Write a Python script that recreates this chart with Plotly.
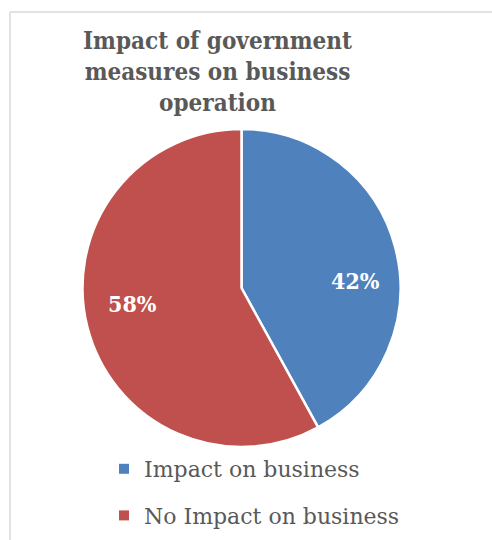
import plotly.graph_objects as go

labels = ["Impact on business", "No Impact on business"]
shares = [42, 58]
colors = ["#4F81BD", "#C0504D"]
title_lines = ["Impact of government", "measures on business", "operation"]

W, H = 492, 540
# pie placement in pixels
CX, CY, R = 241.5, 288, 159
SERIF_C = "DejaVu Serif Condensed, DejaVu Serif, serif"
SERIF = "DejaVu Serif, serif"

fig = go.Figure()
fig.add_trace(
    go.Pie(
        labels=labels,
        values=shares,
        sort=False,
        direction="clockwise",
        rotation=0,
        marker=dict(colors=colors, line=dict(color="white", width=2.5)),
        textinfo="none",
        domain=dict(x=[(CX - R) / W, (CX + R) / W], y=[(H - CY - R) / H, (H - CY + R) / H]),
        hoverinfo="label+percent",
        showlegend=False,
    )
)

# percentage labels, placed inside each slice (offsets in units of the radius)
label_offsets = [(0.715, -0.05), (-0.685, 0.10)]
total = sum(shares)
for v, (fx, fy) in zip(shares, label_offsets):
    fig.add_annotation(
        text=f"<b>{round(100 * v / total)}%</b>",
        x=(CX + fx * R) / W, y=1 - (CY + fy * R) / H,
        xref="paper", yref="paper", showarrow=False,
        xanchor="center", yanchor="middle",
        font=dict(family=SERIF_C, size=23, color="white"),
    )

# legend entries with small square keys
for name, c in zip(labels, colors):
    fig.add_trace(
        go.Scatter(
            x=[None], y=[None], mode="markers", name=name, legendgroup=name,
            marker=dict(symbol="square", size=10, color=c),
            hoverinfo="skip",
        )
    )

fig.add_annotation(
    text="<b>" + "<br>".join(title_lines) + "</b>",
    x=217 / W, y=1 - 24 / H, xref="paper", yref="paper",
    xanchor="center", yanchor="top", showarrow=False, align="center",
    font=dict(family=SERIF_C, size=24, color="#595959"),
)

# chart-area border (left and top edges visible)
fig.add_shape(type="line", xref="paper", yref="paper",
              x0=10 / W, x1=1.05, y0=1 - 12 / H, y1=1 - 12 / H,
              line=dict(color="#D9D9D9", width=1.5))
fig.add_shape(type="line", xref="paper", yref="paper",
              x0=10 / W, x1=10 / W, y0=-0.05, y1=1 - 12 / H,
              line=dict(color="#D9D9D9", width=1.5))

fig.update_layout(
    width=W, height=H,
    margin=dict(l=0, r=0, t=0, b=0),
    paper_bgcolor="white",
    plot_bgcolor="white",
    xaxis=dict(visible=False),
    yaxis=dict(visible=False),
    showlegend=True,
    legend=dict(
        x=104 / W, y=1 - 448 / H, xanchor="left", yanchor="top",
        font=dict(family=SERIF, size=22, color="#595959"),
        bgcolor="rgba(0,0,0,0)",
        tracegroupgap=15,
        itemclick=False,
        itemdoubleclick=False,
    ),
)

fig.write_html("out.html")
